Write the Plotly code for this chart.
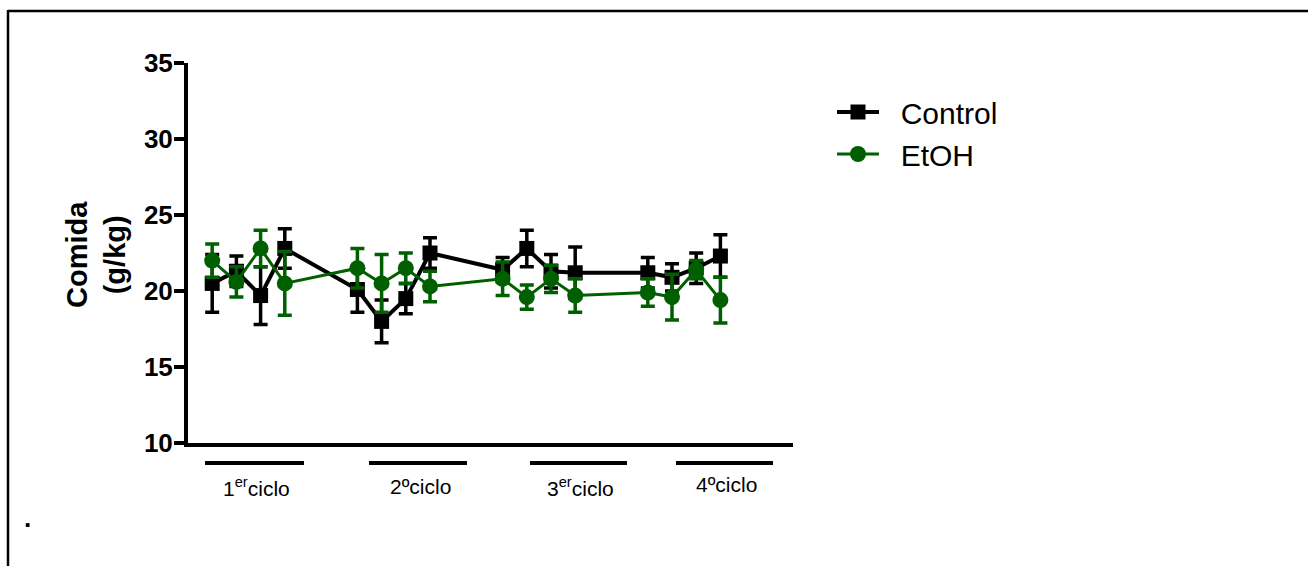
import plotly.graph_objects as go

# ---- data ----
x_pos = [1, 2, 3, 4, 7, 8, 9, 10, 13, 14, 15, 16, 19, 20, 21, 22]
control = [20.5, 21.3, 19.7, 22.8, 20.1, 18.0, 19.5, 22.5, 21.4, 22.8, 21.3, 21.2, 21.2, 20.9, 21.5, 22.3]
control_err = [1.9, 1.0, 1.9, 1.3, 1.5, 1.4, 1.0, 1.0, 0.8, 1.2, 1.1, 1.7, 1.0, 0.9, 1.0, 1.4]
etoh = [22.0, 20.6, 22.8, 20.5, 21.5, 20.5, 21.5, 20.3, 20.8, 19.6, 20.8, 19.7, 19.9, 19.6, 21.4, 19.4]
etoh_err = [1.1, 1.0, 1.2, 2.1, 1.3, 1.9, 1.0, 1.0, 1.1, 0.8, 0.9, 1.1, 0.9, 1.5, 0.6, 1.5]
series_names = ["Control", "EtOH"]
cycle_labels = ["1<sup>er</sup>ciclo", "2\u00baciclo", "3<sup>er</sup>ciclo", "4\u00baciclo"]
y_ticks = [10, 15, 20, 25, 30, 35]

W, H = 1308, 566
L, R, T, B = 188, 793, 63, 443
GREEN = "#006000"
FONT = "Arial, Liberation Sans, sans-serif"
GAP = "\u00a0\u00a0"


def px(xp):
    return (xp - L) / (R - L)


def py(yp):
    return (B - yp) / (B - T)


fig = go.Figure()
fig.add_trace(go.Scatter(
    x=x_pos, y=control, name=GAP + series_names[0], mode="lines+markers",
    line=dict(color="black", width=4),
    marker=dict(symbol="square", size=15, color="black"),
    error_y=dict(type="data", array=control_err, color="black", thickness=3.5, width=7),
    cliponaxis=False,
))
fig.add_trace(go.Scatter(
    x=x_pos, y=etoh, name=GAP + series_names[1], mode="lines+markers",
    line=dict(color=GREEN, width=3),
    marker=dict(symbol="circle", size=16, color=GREEN),
    error_y=dict(type="data", array=etoh_err, color=GREEN, thickness=3.5, width=7),
    cliponaxis=False,
))

shapes = []
# frame lines of the page
shapes.append(dict(type="line", xref="paper", yref="paper", x0=px(8), x1=px(1308), y0=py(11), y1=py(11),
                   line=dict(color="black", width=2.5)))
shapes.append(dict(type="line", xref="paper", yref="paper", x0=px(8), x1=px(8), y0=py(10), y1=py(566),
                   line=dict(color="black", width=2.5)))
# cycle underline bars
bar_px = [(205, 304), (369, 467), (530, 627), (676, 773)]
for (a, b) in bar_px:
    shapes.append(dict(type="line", xref="paper", yref="paper", x0=px(a), x1=px(b), y0=py(463), y1=py(463),
                       line=dict(color="black", width=4)))

annotations = []
label_px = [(256, 487), (420, 487), (580, 487), (726, 484)]
for lab, (cx, cy) in zip(cycle_labels, label_px):
    annotations.append(dict(text=lab, xref="paper", yref="paper", x=px(cx), y=py(cy),
                            xanchor="center", yanchor="middle", showarrow=False,
                            font=dict(family=FONT, size=21, color="black")))
annotations.append(dict(text="<b>Comida<br>(g/kg)</b>", xref="paper", yref="paper", x=px(96), y=py(255),
                        xanchor="center", yanchor="middle", textangle=-90, showarrow=False,
                        font=dict(family=FONT, size=29, color="black")))
annotations.append(dict(text="<b>.</b>", xref="paper", yref="paper", x=px(27), y=py(518),
                        xanchor="center", yanchor="middle", showarrow=False,
                        font=dict(family=FONT, size=26, color="black")))

fig.update_layout(
    width=W, height=H, autosize=False,
    margin=dict(l=L, r=W - R, t=T, b=H - B, pad=0),
    plot_bgcolor="white", paper_bgcolor="white",
    showlegend=True,
    legend=dict(x=px(832), y=py(86), xanchor="left", yanchor="top",
                font=dict(family=FONT, size=30, color="black"),
                bgcolor="rgba(0,0,0,0)", itemwidth=42, tracegroupgap=0),
    shapes=shapes, annotations=annotations,
    xaxis=dict(range=[0, 25], showgrid=False, zeroline=False, showticklabels=False, ticks="",
               showline=True, linecolor="black", linewidth=4),
    yaxis=dict(range=[10, 35], tickvals=y_ticks, showgrid=False, zeroline=False,
               showline=True, linecolor="black", linewidth=4,
               ticks="outside", ticklen=10, tickwidth=3.5, tickcolor="black",
               ticklabelstandoff=-4,
               tickfont=dict(family=FONT, size=26, color="black", weight="bold")),
)

fig.write_html("out.html")
